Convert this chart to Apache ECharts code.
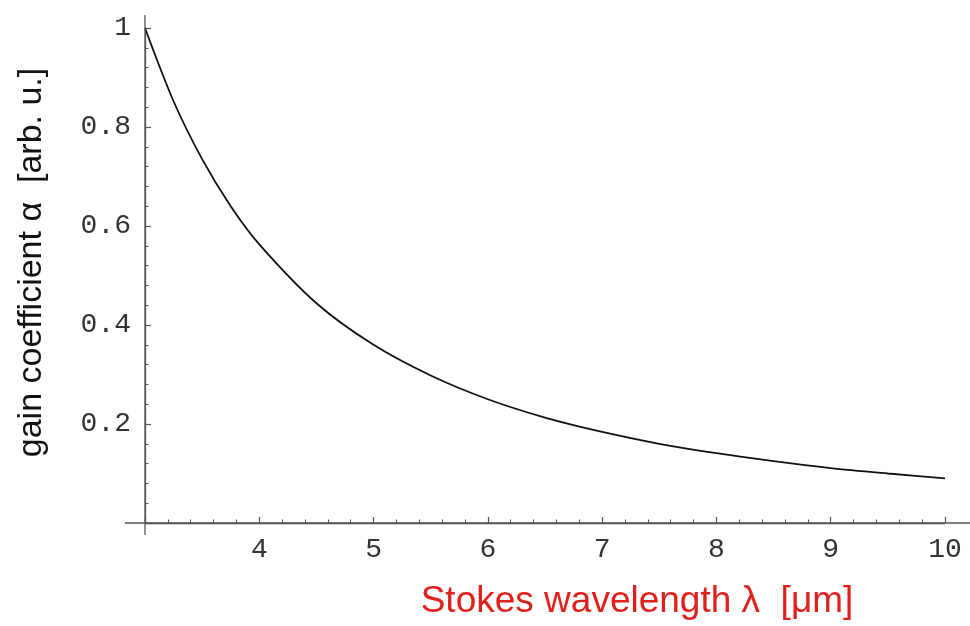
<!DOCTYPE html>
<html>
<head>
<meta charset="utf-8">
<script src="https://cdn.jsdelivr.net/npm/echarts@6/dist/echarts.min.js"></script>
<style>
html,body{margin:0;padding:0;background:#fff;}
#chart{width:970px;height:626px;}
</style>
</head>
<body>
<div id="chart"></div>
<script>
const wavelength = [3, 3.25, 3.5, 3.75, 4, 4.5, 5, 5.5, 6, 6.5, 7, 7.5, 8, 8.5, 9, 9.5, 10];
const gain = [1.0, 0.852, 0.735, 0.64, 0.563, 0.444, 0.36, 0.298, 0.25, 0.213, 0.184, 0.16, 0.141, 0.125, 0.111, 0.1, 0.09];
const xTitle = 'Stokes wavelength \u03bb  [\u03bcm]';
const yTitle = 'gain coefficient \u03b1  [arb. u.]';

const axisColor = '#555';
const labelFont = {fontFamily: 'Liberation Mono', fontSize: 28, color: '#333'};

const chart = echarts.init(document.getElementById('chart'), null, {renderer: 'canvas'});
const option = {
  animation: false,
  backgroundColor: '#fff',
  grid: {left: 145, right: 25, top: 28, bottom: 103, containLabel: false, outerBoundsMode: 'none'},
  xAxis: {
    type: 'value', min: 3, max: 10, interval: 1,
    axisLine: {show: true, lineStyle: {color: axisColor, width: 1.3}},
    axisTick: {show: true, inside: true, length: 6, lineStyle: {color: axisColor, width: 1.2}},
    minorTick: {show: true, splitNumber: 5, length: 3.5, lineStyle: {color: axisColor, width: 1}},
    splitLine: {show: false},
    axisLabel: Object.assign({margin: 13, formatter: v => v === 3 ? '' : String(v)}, labelFont),
    name: xTitle, nameLocation: 'middle', nameGap: 60,
    nameTextStyle: {fontFamily: 'Liberation Sans', fontSize: 37, color: '#e0201b', padding: [0, 0, 0, 184]}
  },
  yAxis: {
    type: 'value', min: 0, max: 1, interval: 0.2,
    axisLine: {show: true, lineStyle: {color: axisColor, width: 1.3}},
    axisTick: {show: true, inside: true, length: 6, lineStyle: {color: axisColor, width: 1.2}},
    minorTick: {show: true, splitNumber: 5, length: 3.5, lineStyle: {color: axisColor, width: 1}},
    splitLine: {show: false},
    axisLabel: Object.assign({margin: 14, formatter: v => v === 0 ? '' : (v === 1 ? '1' : v.toFixed(1))}, labelFont),
    name: yTitle, nameLocation: 'middle', nameGap: 96, nameRotate: 90,
    nameTextStyle: {fontFamily: 'Liberation Sans', fontSize: 34, color: '#111', padding: [0, 0, 0, 26]}
  },
  series: [{
    type: 'line',
    data: wavelength.map((x, i) => [x, gain[i]]),
    smooth: 0.3,
    showSymbol: false,
    lineStyle: {color: '#111', width: 1.8}
  }]
};
chart.setOption(option);

const p0 = chart.convertToPixel({gridIndex: 0}, [3, 0]);
const p1 = chart.convertToPixel({gridIndex: 0}, [10, 1]);
chart.setOption({
  graphic: [
    {type: 'line', shape: {x1: p0[0] - 20, y1: p0[1], x2: p1[0] + 25, y2: p0[1]}, style: {stroke: axisColor, lineWidth: 1.3}, z: 10},
    {type: 'line', shape: {x1: p0[0], y1: p1[1] - 13, x2: p0[0], y2: p0[1] + 12}, style: {stroke: axisColor, lineWidth: 1.3}, z: 10}
  ]
});
</script>
</body>
</html>
